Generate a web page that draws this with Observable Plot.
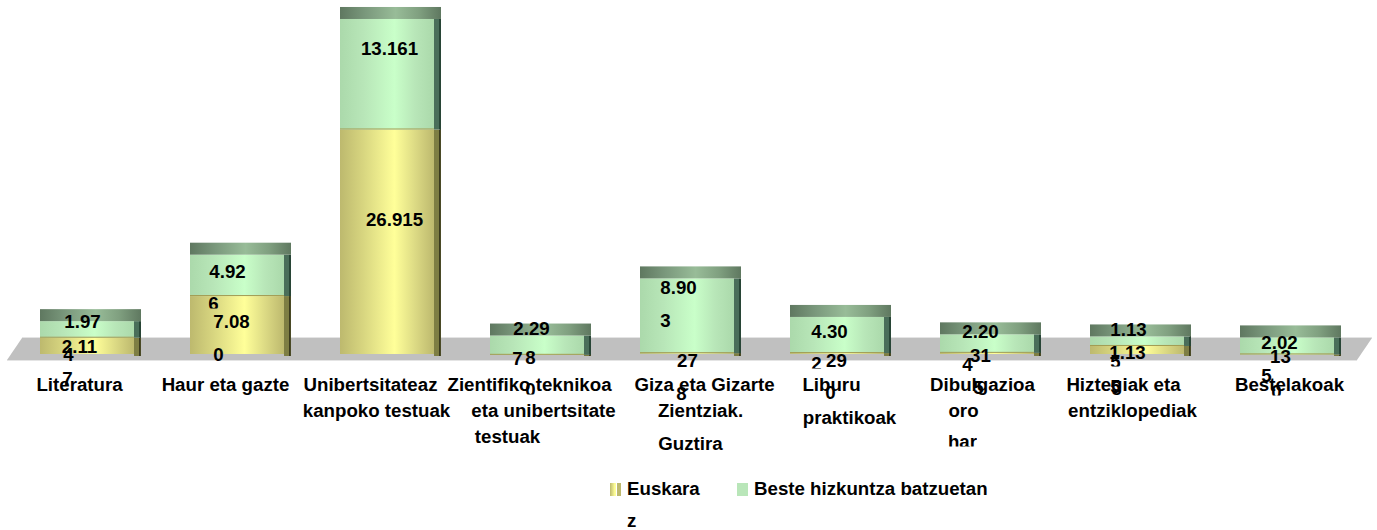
<!DOCTYPE html>
<html>
<head>
<meta charset="utf-8">
<script src="https://cdn.jsdelivr.net/npm/d3@7"></script>
<script src="https://cdn.jsdelivr.net/npm/@observablehq/plot@0.6"></script>
<style>
  html, body { margin: 0; padding: 0; background: #fff; }
  body { width: 1377px; height: 530px; overflow: hidden; font-family: "Liberation Sans", Arial, sans-serif; font-weight: 700; font-size: 18.7px; color: #000; }
  svg { display: block; }
  #legend { position: relative; height: 70px; }
  #legend span { position: absolute; line-height: 20px; white-space: nowrap; }
  #legend i { position: absolute; display: block; top: 23px; width: 11px; height: 13px; }
  .clip6 text { clip-path: inset(0 0 6px 0); }
  .clip7 text { clip-path: inset(0 0 7px 0); }
</style>
</head>
<body>
<div id="chart"></div>
<div id="legend"></div>
<script>
// ---- data ----
const categories = ["Literatura", "Haur eta gazte", "Unibertsitateaz kanpoko testuak", "Zientifiko teknikoa eta unibertsitate testuak", "Giza eta Gizarte Zientziak. Guztira", "Liburu praktikoak", "Dibulgazioa oro har", "Hiztegiak eta entziklopediak", "Bestelakoak"];
const euskara = [2117, 7080, 26915, 80, 278, 290, 315, 1135, 130];
const beste = [1974, 4926, 13161, 2297, 8903, 4302, 2204, 1135, 2025];
const seriesNames = ["Euskara", "Beste hizkuntza batzuetan"];

// the labels wrap as they do in the picture
const categoryLines = [
  ["Literatura"], ["Haur eta gazte"], ["Unibertsitateaz", "kanpoko testuak"],
  ["Zientifiko teknikoa", "eta unibertsitate", "testuak"], ["Giza eta Gizarte", "Zientziak.", "Guztira"],
  ["Liburu", "praktikoak"], ["Dibulgazioa", "oro", "har"], ["Hiztegiak eta", "entziklopediak"], ["Bestelakoak"]
];
const valueLines = [
  ["1.97", "4", "2.11", "7"], ["4.92", "6", "7.08", "0"], ["13.161", "26.915"],
  ["2.29", "7", "8", "0"], ["8.90", "3", "27", "8"], ["4.30", "2", "29", "0"],
  ["2.20", "4", "31", "5"], ["1.13", "5", "1.13", "5"], ["2.02", "5", "13", "0"]
];

// ---- layout: where each wrapped line sits (centre x, centre y, bottom clip) ----
const categoryPlace = [
  [[79, 385]], [[225, 385]], [[370, 385], [376, 411]],
  [[529, 385], [543, 411], [507, 437]], [[704, 385], [700, 411], [690, 444]],
  [[831, 385], [849, 418]], [[982, 385], [963, 411], [962, 442, 6]], [[1123, 385], [1132, 411]], [[1289, 385]]
];
const valuePlace = [
  [[82, 322], [68, 355], [79, 347], [67, 379]], [[227, 272], [213, 304, 6], [231, 322], [218, 355]], [[389, 49], [394, 220]],
  [[531, 329], [517, 359], [530, 358], [530, 390, 6]], [[678, 288], [665, 321], [687, 361], [681, 394]], [[829, 332], [816, 364, 6], [836, 361], [830, 393]],
  [[980, 332], [967, 365], [980, 356], [978, 388]], [[1128, 330], [1115, 362, 6], [1127, 353], [1115, 387]], [[1279, 343], [1266, 376], [1280, 357], [1276, 392, 7]]
];

const rows = categories.map((cat, i) => ({cat, eu: euskara[i], total: euskara[i] + beste[i]}));

// y scale: 0 sits at pixel 355.5 of a 460px-high svg
const svgHeight = 460, zeroPx = 355.5, pxPerUnit = 0.008397;
const unit = px => px / pxPerUnit;
const capDepth = unit(12);
const bw = 94, sideMid = 5, sideDark = 2;
const center = i => 87 + 150 * i;

const defsMark = () => {
  const svg = d3.create("svg:defs");
  const grad = (id, stops) => {
    const g = svg.append("linearGradient").attr("id", id);
    stops.forEach(([o, c]) => g.append("stop").attr("offset", o).attr("stop-color", c));
  };
  grad("gYellow", [[0, "#bdb96e"], [0.25, "#d8d680"], [0.58, "#ffff99"], [0.8, "#dcda84"], [1, "#bdb96e"]]);
  grad("gGreen", [[0, "#abd9ab"], [0.25, "#b8e6b8"], [0.58, "#c9ffc9"], [0.8, "#b8e6b8"], [1, "#abd9ab"]]);
  grad("gCap", [[0, "#5f7860"], [0.25, "#7a987c"], [0.55, "#98bc98"], [0.78, "#80a080"], [1, "#5f7860"]]);
  return svg.node();
};

const floorMark = (index, scales) => {
  const yBack = scales.y(unit(zeroPx - 338));
  const yFront = scales.y(unit(zeroPx - 360));
  const g = d3.create("svg:g");
  g.append("polygon")
    .attr("points", `7,${yFront} 22,${yBack} 1372,${yBack} 1357,${yFront}`)
    .attr("fill", "#c0c0c0");
  g.append("line").attr("x1", 7).attr("x2", 1357).attr("y1", yFront + 0.5).attr("y2", yFront + 0.5).attr("stroke", "#e4e4e4");
  g.append("line").attr("x1", 22).attr("x2", 1372).attr("y1", yBack - 0.5).attr("y2", yBack - 0.5).attr("stroke", "#e4e4e4");
  return g.node();
};

const lineMark = (line, i, place) => {
  const [cx, cy, clip] = place;
  return Plot.text([{cat: categories[i], line}], {
    x: "cat", y: () => 0, text: "line",
    dx: cx - center(i), dy: cy - zeroPx,
    textAnchor: "middle", lineAnchor: "middle",
    fontFamily: '"Liberation Sans", Arial, sans-serif', fontWeight: 700, fontSize: 18.7, fill: "#000",
    className: clip ? `clip${clip}` : undefined
  });
};

const strip = (opts, fill, left, width) => Plot.barY(rows, {x: "cat", ...opts, fill, insetLeft: bw + left, insetRight: -(left + width)});

const chart = Plot.plot({
  width: 1377, height: svgHeight,
  margin: 0,
  style: {background: "#fff", overflow: "hidden"},
  x: {domain: categories, range: [12, 1362], paddingInner: 56 / 150, paddingOuter: 28 / 150, round: false, axis: null},
  y: {domain: [-unit(svgHeight - zeroPx), unit(zeroPx)], range: [svgHeight, 0], axis: null},
  marks: [
    defsMark,
    floorMark,
    // side faces, euskara
    strip({y1: unit(-0.5), y2: d => d.eu + unit(11)}, "#4a4a26", sideMid + sideDark - 1, 1),
    strip({y1: unit(-0.5), y2: "eu"}, "#7e7e44", 0, sideMid),
    strip({y1: unit(-0.5), y2: "eu"}, "#3a3a1e", sideMid, sideDark - 1),
    // side faces, other languages
    strip({y1: "eu", y2: "total"}, "#4a6e5a", 0, sideMid),
    strip({y1: "eu", y2: "total"}, "#284536", sideMid, sideDark),
    // front faces
    Plot.barY(rows, {x: "cat", y1: unit(1.5), y2: "eu", fill: "url(#gYellow)"}),
    Plot.barY(rows, {x: "cat", y1: "eu", y2: "total", fill: "url(#gGreen)"}),
    Plot.barY(rows, {x: "cat", y1: "eu", y2: d => d.eu + unit(1), fill: "#a39c52"}),
    // top faces
    Plot.barY(rows, {x: "cat", y1: "total", y2: d => d.total + capDepth, fill: "url(#gCap)", insetRight: -(sideMid + sideDark)}),
    // category labels and value labels, line by line
    ...categoryLines.flatMap((lines, i) => lines.map((line, j) => lineMark(line, i, categoryPlace[i][j]))),
    ...valueLines.flatMap((lines, i) => lines.map((line, j) => lineMark(line, i, valuePlace[i][j])))
  ]
});
document.getElementById("chart").appendChild(chart);

// legend below the svg
const legend = d3.select("#legend");
legend.append("i").style("left", "610px").style("background", "linear-gradient(90deg,#bdb96e,#ffff99 45%,#ffff99 55%,#fff 56%,#fff 60%,#bdb96e 62%)");
legend.append("span").style("left", "627px").style("top", "19px").text(seriesNames[0]);
legend.append("span").style("left", "627px").style("top", "51px").text("z");
legend.append("i").style("left", "737px").style("background", "#b9e6b9");
legend.append("span").style("left", "754px").style("top", "19px").text(seriesNames[1]);
</script>
</body>
</html>
